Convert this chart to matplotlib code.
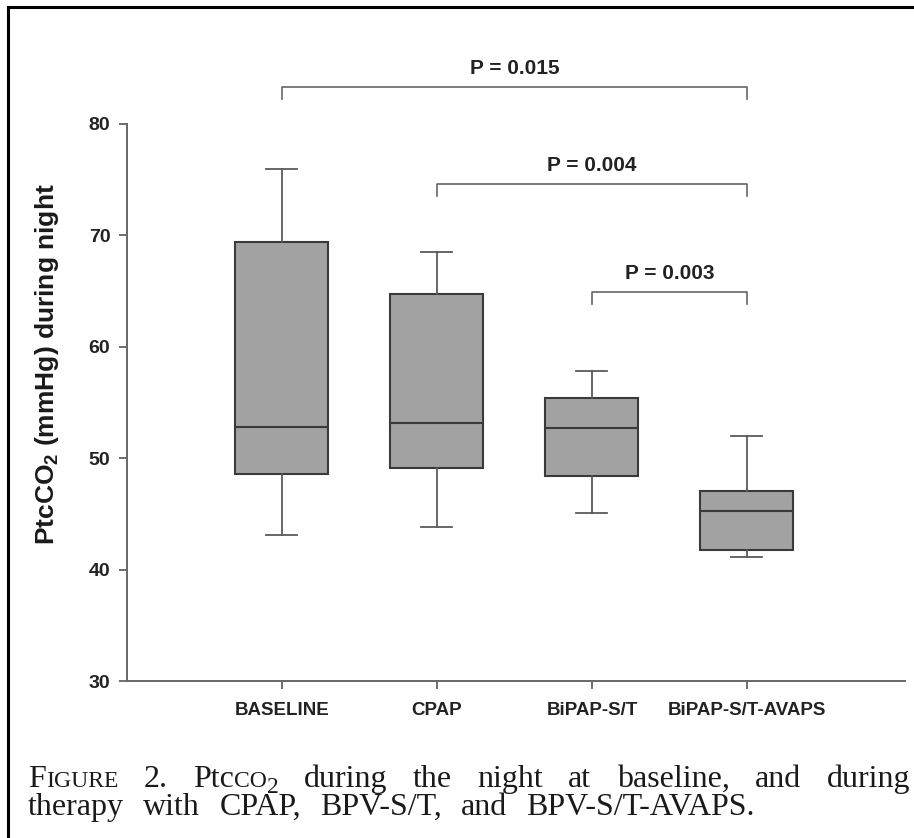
import matplotlib
matplotlib.use("Agg")
import matplotlib.pyplot as plt
from matplotlib.transforms import IdentityTransform
from matplotlib.lines import Line2D

plt.rcParams["font.family"] = "Liberation Sans"
plt.rcParams["mathtext.fontset"] = "custom"
plt.rcParams["mathtext.rm"] = "Liberation Sans"
plt.rcParams["mathtext.bf"] = "Liberation Sans:bold"

# box plot summaries (mmHg)
groups = ["BASELINE", "CPAP", "BiPAP-S/T", "BiPAP-S/T-AVAPS"]
whisker_lo = [43.1, 43.8, 45.1, 41.1]
q1 = [48.6, 49.1, 48.4, 41.8]
medians = [52.8, 53.2, 52.7, 45.3]
q3 = [69.4, 64.7, 55.4, 47.1]
whisker_hi = [76.0, 68.5, 57.8, 52.0]

# pairwise comparisons (group index pairs) and p values
pairs = [(0, 3), (1, 3), (2, 3)]
p_values = ["0.015", "0.004", "0.003"]
bracket_y = [83.3, 74.6, 64.9]

W, H = 914, 838
fig = plt.figure(figsize=(W / 100, H / 100), dpi=100)
ax = fig.add_axes([127 / W, 157 / H, 778 / W, 557 / H])

stats = []
for i, g in enumerate(groups):
    stats.append(dict(label=g, whislo=whisker_lo[i], q1=q1[i], med=medians[i],
                      q3=q3[i], whishi=whisker_hi[i], fliers=[]))

edge = "#3a3a3a"
line = "#5a5a5a"
positions = list(range(1, len(groups) + 1))
ax.bxp(stats, positions=positions, widths=0.6, capwidths=0.2, patch_artist=True,
       showfliers=False,
       boxprops=dict(facecolor="#a2a2a2", edgecolor=edge, linewidth=1.5),
       medianprops=dict(color=edge, linewidth=1.5),
       whiskerprops=dict(color=line, linewidth=1.3),
       capprops=dict(color=line, linewidth=1.3))

ax.set_xlim(0, 5.02)
ax.set_ylim(30, 80)
ax.set_yticks(range(30, 81, 10))
ax.set_xticks(positions)
ax.set_xticklabels(groups, fontsize=13.5, fontweight="bold", color="#222222")
for lab in ax.get_yticklabels():
    lab.set_fontsize(14)
    lab.set_fontweight("bold")
    lab.set_color("#222222")
ax.tick_params(axis="both", direction="out", length=6, width=1.2, color="#555555")
ax.tick_params(axis="y", pad=6)
ax.tick_params(axis="x", pad=9)
for s in ["top", "right"]:
    ax.spines[s].set_visible(False)
for s in ["left", "bottom"]:
    ax.spines[s].set_color("#666666")
    ax.spines[s].set_linewidth(1.4)

# significance brackets
for (a, b), p, y in zip(pairs, p_values, bracket_y):
    x1, x2 = positions[a], positions[b]
    ax.plot([x1, x1, x2, x2], [y - 1.1, y, y, y - 1.1], color="#666666",
            linewidth=1.2, clip_on=False)
    ax.text((x1 + x2) / 2, y + 1.65, "P = " + p, ha="center", va="center",
            fontsize=15, fontweight="bold", color="#222222", clip_on=False)

fig.text(47, H - 364, "PtcCO$_\\mathbf{2}$ (mmHg) during night", rotation=90,
         ha="center", va="center", fontsize=19, fontweight="bold",
         color="#1a1a1a", transform=IdentityTransform())

# page border (left and top)
fig.add_artist(Line2D([8, 8], [0, H - 7], transform=IdentityTransform(),
                      color="black", linewidth=2.2))
fig.add_artist(Line2D([8, W], [H - 7, H - 7], transform=IdentityTransform(),
                      color="black", linewidth=2.2))

# caption, set word by word and justified
serif = "Liberation Serif"
fs = 23
renderer = fig.canvas.get_renderer()


def make_word(parts):
    arts = []
    for s, scale, dy in parts:
        t = fig.text(0, 0, s, fontsize=fs * scale, family=serif, color="#1a1a1a",
                     va="baseline", ha="left", transform=IdentityTransform())
        arts.append((t, dy))
    widths = [t.get_window_extent(renderer).width for t, _ in arts]
    return arts, widths


def set_line(words, x0, x1, base):
    built = [make_word(w) for w in words]
    total = sum(sum(ws) for _, ws in built)
    gap = (x1 - x0 - total) / (len(built) - 1)
    x = x0
    for arts, ws in built:
        for (t, dy), w in zip(arts, ws):
            t.set_position((x, base + dy))
            x += w
        x += gap


sc = 0.74
line1 = [
    [("F", 1, 0), ("IGURE", sc, 0)],
    [("2.", 1, 0)],
    [("Ptc", 1, 0), ("CO", sc, 0), ("2", sc, -6)],
    [("during", 1, 0)], [("the", 1, 0)], [("night", 1, 0)], [("at", 1, 0)],
    [("baseline,", 1, 0)], [("and", 1, 0)], [("during", 1, 0)],
]
line2 = [[(w, 1, 0)] for w in
         ["therapy", "with", "CPAP,", "BPV-S/T,", "and", "BPV-S/T-AVAPS."]]
set_line(line1, 28, 910, H - 787)
set_line(line2, 28, 755, H - 815)

fig.savefig("out.png", dpi=100)
